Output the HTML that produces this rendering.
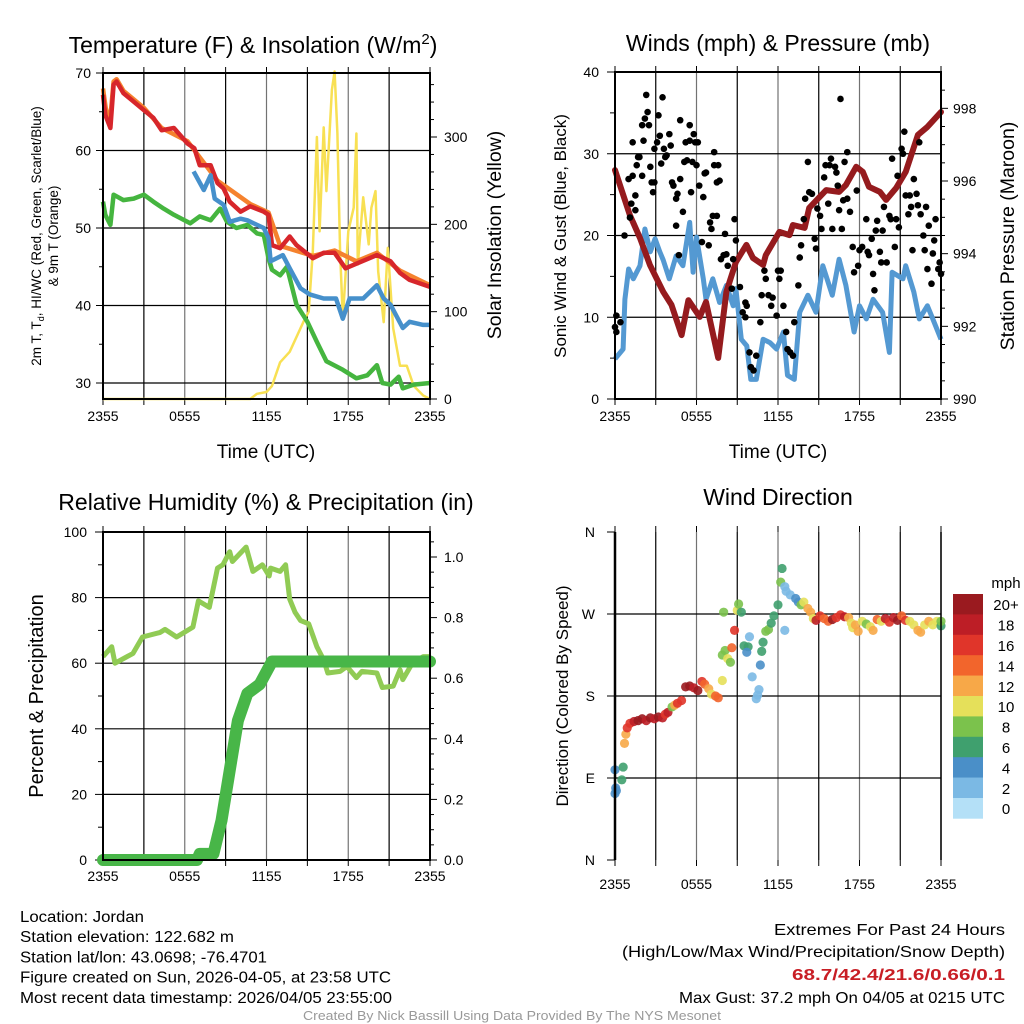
<!DOCTYPE html>
<html><head><meta charset="utf-8"><style>
html,body{margin:0;padding:0;background:#fff;}
svg{display:block;font-family:"Liberation Sans",sans-serif;}
</style></head><body>
<svg id="fig" width="1024" height="1024" viewBox="0 0 1024 1024" xmlns="http://www.w3.org/2000/svg">
<rect x="0" y="0" width="1024" height="1024" fill="#fff"/>
</svg>
<script>
// ---------- Panel 1 data: temperature & insolation ----------
const tempT = [0,0.17,0.54,0.78,1.0,1.5,2.25,3.0,3.7,4.3,5.2,6.2,6.7,7.1,7.9,8.4,8.85,9.3,10.1,10.8,11.8,12.15,12.4,13.0,13.7,14.2,15.4,16.2,17.0,17.8,18.6,20.1,21.1,21.8,22.5,24.0];
const tempV = [67.2,64.6,62.9,68.5,68.9,67.4,66.3,65.2,64.2,62.6,62.9,60.9,60.3,58.1,58.1,55.8,55.1,53.4,52.1,52.8,52.1,51.7,47.8,47.4,48.9,47.8,46.1,46.8,46.8,44.8,45.4,46.5,45.7,44.2,43.3,42.4];
const t9T = [0,0.2,0.5,0.78,1.0,1.5,2.25,3.0,4.3,6.2,8.4,10.8,12.15,13.0,15.4,17.0,18.6,20.1,21.8,24.0];
const t9V = [68.0,65.5,63.5,68.9,69.2,67.7,66.6,65.5,62.9,61.2,56.1,53.1,52.0,47.7,46.4,47.1,45.7,46.8,44.5,42.6];
const wcT = [6.65,7.4,7.9,8.2,8.85,9.3,10.1,10.6,11.3,11.8,12.15,12.3,13.2,13.7,14.5,15.2,16.2,17.1,17.6,18.1,19.1,20.1,20.6,21.1,22.0,22.5,23.5,24.0];
const wcV = [57.3,54.9,56.8,53.8,53.0,50.8,51.2,51.0,50.4,50.0,48.7,45.7,46.5,44.8,42.2,41.4,40.9,40.9,38.3,40.9,40.9,42.6,40.9,40.1,37.1,37.9,37.5,37.5];
const tdT = [0,0.17,0.54,0.78,1.5,2.25,3.0,3.7,4.45,5.2,6.4,7.1,7.9,8.6,9.1,9.8,10.6,11.3,11.8,12.15,12.4,13.0,13.5,14.2,15.0,15.7,16.4,17.6,18.6,19.4,20.1,20.5,21.1,21.7,22.0,22.8,24.0];
const tdV = [53.4,51.7,50.4,54.3,53.6,53.8,54.3,53.4,52.5,51.7,50.6,51.5,51.0,52.5,50.8,50.0,50.4,49.3,49.1,46.1,44.6,43.9,45.0,40.1,37.9,35.3,32.8,31.7,30.6,31.0,32.3,30.0,29.8,30.8,29.3,29.8,30.0];
const solT = [0,10.8,11.3,12.0,12.4,13.0,13.7,14.7,15.1,15.4,15.7,15.9,16.2,16.4,16.8,17.0,17.2,17.4,17.6,18.0,18.4,18.6,18.7,19.1,19.5,19.7,20.0,20.2,20.6,20.9,21.3,21.8,22.3,22.8,23.5,24.0];
const solV = [0,0,6,8,15,42,54,88,100,169,300,192,311,238,354,375,304,169,92,192,219,304,154,231,177,219,238,146,88,173,81,38,38,15,4,0];
const timeTicks = [0,6,12,18,24];
const timeLabels = ["2355","0555","1155","1755","2355"];
const tempTicks = [30,40,50,60,70];
const solTicks = [0,100,200,300];

// ---------- Panel 2 data: winds & pressure ----------
const windT = [0,0.6,0.73,1.0,1.35,1.84,2.2,2.6,2.95,3.3,3.55,4.0,4.5,5.0,5.5,5.75,6.0,6.5,6.7,7.2,7.7,8.2,8.7,8.9,9.3,9.7,10.0,10.4,10.9,11.4,11.9,12.4,12.7,13.2,13.6,14.2,14.8,15.3,16.0,16.5,17.0,17.6,18.0,18.5,19.0,19.7,20.2,20.4,21.2,21.4,22.0,22.4,23.0,23.4,24.0];
const windV = [4.9,6.1,12.2,15.9,14.7,16.3,20.8,18.0,19.6,18.0,17.0,14.7,17.5,16.3,21.6,15.5,19.8,14.7,12.2,14.7,11.8,13.9,11.4,13.5,7.3,6.5,2.4,2.4,7.3,6.9,6.1,8.2,2.9,2.4,10.6,12.7,10.6,16.3,12.7,17.1,13.9,8.2,11.4,9.8,12.2,10.6,5.7,15.5,14.7,16.3,13.1,9.8,11.4,9.8,7.3];
const gustT = [0,0.1,0.1,0.4,0.7,1.0,1.1,1.2,1.3,1.5,1.3,1.5,1.6,1.7,1.8,2.0,2.1,2.0,2.2,2.3,2.4,2.5,2.6,2.7,2.8,2.9,2.9,3.1,3.2,3.3,3.4,3.5,3.6,3.7,3.8,4.0,4.1,4.2,4.3,4.5,4.5,4.6,4.7,4.8,4.8,5.0,5.1,5.2,5.3,5.5,5.5,5.6,5.7,5.8,5.9,6.0,6.1,6.2,6.4,6.5,6.6,6.7,6.9,7.0,7.1,7.2,7.3,7.3,7.5,7.5,7.6,7.7,7.8,8.0,8.1,8.2,8.3,8.6,8.7,8.8,8.9,9.2,9.4,9.6,9.6,9.7,9.9,10.0,10.2,10.4,10.7,10.8,11.0,11.1,11.3,11.5,11.6,11.9,12.0,12.1,12.2,12.4,12.6,12.7,12.9,13.1,13.2,13.5,13.6,13.7,13.9,14.0,14.2,14.3,14.5,14.7,14.8,14.9,15.1,15.2,15.4,15.5,15.7,15.8,15.9,16.0,16.2,16.3,16.4,16.5,16.6,16.7,16.8,16.9,17.1,17.1,17.3,17.5,17.6,17.8,17.9,18.0,18.2,18.5,18.6,18.7,18.9,19.0,19.1,19.2,19.3,19.5,19.6,19.7,19.8,20.0,20.2,20.3,20.4,20.6,20.7,20.8,20.9,21.1,21.2,21.3,21.4,21.6,21.7,21.8,21.9,22.0,22.2,22.3,22.4,22.5,22.7,22.8,22.9,23.0,23.1,23.3,23.4,23.5,23.6,23.8,23.9,24.0];
const gustV = [8.8,10.2,8.2,9.4,20.0,26.9,22.2,23.9,27.3,23.1,31.4,24.9,28.6,29.6,29.6,27.3,31.6,33.5,34.3,37.2,35.1,33.5,28.4,26.5,25.3,30.6,26.5,31.4,34.7,32.2,28.8,36.9,30.6,29.6,29.8,32.4,31.0,26.5,26.1,24.5,21.2,25.1,17.6,26.9,34.1,22.9,29.0,31.4,29.2,33.5,31.6,25.3,29.0,32.4,31.4,28.6,31.4,26.1,19.2,24.7,27.6,27.7,18.8,21.6,20.8,22.4,30.2,28.6,22.4,26.5,28.6,26.7,17.1,17.6,20.2,17.7,16.3,13.5,17.1,22.0,19.4,13.7,10.6,11.8,10.0,11.4,5.7,3.9,3.5,5.3,9.4,12.7,15.7,14.7,12.7,11.4,12.4,10.2,15.7,14.7,15.7,11.4,8.2,6.1,5.7,5.3,9.4,13.9,17.3,18.8,22.0,24.5,29.0,25.3,25.1,19.6,18.4,23.3,22.4,20.8,27.1,28.6,23.9,28.6,29.4,20.8,28.4,27.7,26.1,23.1,36.7,20.8,24.3,29.0,30.2,24.5,22.9,18.6,15.5,25.5,16.3,18.2,18.6,22.0,18.0,17.6,19.6,15.3,13.3,20.6,21.8,18.0,16.7,20.6,23.5,16.7,22.4,22.0,29.4,18.6,22.0,27.3,21.0,30.6,30.0,32.7,24.9,22.6,24.9,23.5,18.2,26.9,25.1,23.7,31.4,22.6,20.0,18.2,23.5,15.9,21.2,14.1,17.8,19.4,22.0,15.9,16.7,15.3];
const presT = [0,1.1,1.84,2.57,3.55,4.16,4.9,5.4,6.24,6.7,7.6,8.2,8.9,9.67,10.16,10.9,11.1,12.1,12.85,13.1,13.96,14.3,15.55,16.5,17.0,17.76,18.24,18.7,19.5,19.96,20.7,21.4,22.3,23.0,24.0];
const presV = [996.3,995.06,994.43,993.69,992.95,992.59,991.76,992.72,992.26,992.67,991.13,992.95,993.77,994.24,993.88,993.69,993.96,994.6,994.51,994.79,994.71,995.26,995.75,995.7,995.89,996.39,996.25,995.84,995.7,995.48,995.81,996.25,997.27,997.49,997.9];
const windTicks = [0,10,20,30,40];
const presTicks = [990,992,994,996,998];

// ---------- Panel 3 data: RH & precipitation ----------
const rhT = [0,0.64,0.88,2.2,2.9,4.2,4.55,5.4,6.6,7.0,7.8,8.4,8.8,9.3,9.5,10.5,11.0,11.7,12.2,12.3,13.0,13.4,13.7,14.1,14.5,15.1,15.7,16.2,16.5,17.4,17.9,18.6,19.0,20.1,20.5,21.3,21.8,22.0,22.7,23.5,24.0];
const rhV = [62,65,60,63,68,69.4,70.3,68,71,79,77,89,90,94,91,95.4,88,90,86.6,89,88,90,79.5,75.5,73,72,65,61,57,57.5,59,55.6,57.5,57,52.6,53,58,55,60,62,62];
const prT = [0,6.9,7.1,8.1,8.7,9.5,9.9,10.6,11.5,12.4,24.0];
const prV = [0,0,0.02,0.02,0.13,0.35,0.46,0.55,0.58,0.655,0.655];
const rhTicks = [0,20,40,60,80,100];
const prTicks = [0.0,0.2,0.4,0.6,0.8,1.0];

// ---------- Panel 4 data: wind direction ----------
const dirT = [0,0.1,0.05,0,0.6,0.5,0.7,0.8,0.9,1.1,1.4,1.7,2.0,2.3,2.6,2.9,3.2,3.5,3.7,3.9,4.2,4.4,4.6,4.9,5.2,5.5,5.8,6.1,6.4,6.6,6.9,7.1,7.4,7.6,7.9,7.9,8.1,8.3,8.5,8.6,8.8,8.0,9.0,9.1,9.3,9.5,9.8,9.9,9.7,10.1,10.6,10.5,10.4,10.7,10.9,10.8,11.1,11.3,11.5,11.7,12.0,12.2,12.3,12.5,12.6,12.9,13.3,13.5,12.5,13.7,13.9,14.2,14.4,14.6,14.8,15.1,15.4,15.7,16.0,16.3,16.6,16.9,17.2,17.4,17.5,17.7,17.9,18.2,18.5,18.8,19.0,19.3,19.6,19.9,20.2,20.5,20.8,21.1,21.4,21.7,22.0,22.3,22.5,22.8,23.1,23.4,23.7,24,24];
const dirV = [73,76,79,99,102,88,128,138,145,150,152,153,155,153,156,155,157,156,160,162,168,170,172,175,190,191,189,186,196,193,188,182,180,178,197,225,230,221,217,233,252,272,274,281,272,235,234,245,228,201,187,181,177,214,239,229,251,253,260,268,280,305,320,300,295,291,287,283,252,280,283,276,272,265,263,268,265,262,264,266,269,267,266,260,255,258,251,262,259,256,252,264,262,265,261,266,263,268,263,262,258,252,250,258,262,258,262,257,262];
const dirSpd = [4,4,4,4,6,6,12,12,16,16,18,20,20,18,20,18,20,18,16,18,8,12,16,16,20,20,18,20,16,14,12,10,14,14,10,8,8,10,8,14,16,8,10,8,6,6,6,2,4,2,2,2,2,4,6,6,8,8,6,6,6,8,6,2,2,2,4,4,2,8,10,12,12,10,18,16,14,14,20,16,16,18,12,10,10,12,12,10,8,10,12,14,10,18,16,18,20,14,16,10,10,12,12,10,12,10,10,6,8];
const dirTickLabels = ["N","E","S","W","N"];
const dirTicks = [0,90,180,270,360];
const cbLabels = ["20+","18","16","14","12","10","8","6","4","2","0"];
const cbColors = ["#9a1a1f","#bd1e26","#e0352a","#f2652c","#f7a848","#e5e05a","#7bc24c","#3fa06e","#4a8fc8","#7bb9e4","#b4e0f7"];

// ---------- helpers ----------
const NS = "http://www.w3.org/2000/svg";
const svg = document.getElementById("fig");
function mk(tag, attrs, parent){
  const e = document.createElementNS(NS, tag);
  for (const k in attrs) e.setAttribute(k, attrs[k]);
  (parent||svg).appendChild(e);
  return e;
}
function txt(str, x, y, size, anchor, parent, extra){
  const e = mk("text", {x:x, y:y, "font-size":size, "text-anchor":anchor||"middle", fill:"#000"}, parent);
  if (extra) for (const k in extra) e.setAttribute(k, extra[k]);
  e.textContent = str;
  return e;
}
function lin(d0,d1,r0,r1){ return v => r0 + (v-d0)/(d1-d0)*(r1-r0); }
function pathFrom(xs, ys, fx, fy){
  let d = "";
  for (let i=0;i<xs.length;i++) d += (i?"L":"M") + fx(xs[i]).toFixed(1) + "," + fy(ys[i]).toFixed(1);
  return d;
}
function frame(g, L, T, R, B, hLines, vCount){
  for (let i=0;i<=vCount;i++){
    const x = L + (R-L)*i/vCount;
    const ln = mk("line",{x1:x,y1:T,x2:x,y2:B,stroke:"#000","stroke-width":1.2,opacity:(i%2?1:0.55)}, g);
    
    
    mk("line",{x1:x,y1:B,x2:x,y2:B+6,stroke:"#000","stroke-width":1}, g);
    mk("line",{x1:x,y1:T,x2:x,y2:T-6,stroke:"#000","stroke-width":1}, g);
  }
  hLines.forEach(y=>{
    const ln = mk("line",{x1:L,y1:y,x2:R,y2:y,stroke:"#000","stroke-width":1.2}, g);
    
    
  });
}
function border(g,L,T,R,B){
  const r = mk("rect",{x:L,y:T,width:R-L,height:B-T,fill:"none",stroke:"#000","stroke-width":2}, g);
  
  
}

// ================= PANEL 1 =================
(function(){
  const g = mk("g",{});
  
  
  const L=103,R=430,T=73,B=399;
  const fx = lin(0,24,L,R), fy = lin(30,70,383,73), fs = lin(0,300,399,137);
  frame(g,L,T,R,B,tempTicks.map(fy),8);
  tempTicks.forEach(v=>{ mk("line",{x1:L-7,y1:fy(v),x2:L,y2:fy(v),stroke:"#000"},g); txt(String(v),L-12,fy(v)+5,14,"end",g); });
  [35,45,55,65].forEach(v=>mk("line",{x1:L-4,y1:fy(v),x2:L,y2:fy(v),stroke:"#000"},g));
  solTicks.forEach(v=>{ mk("line",{x1:R,y1:fs(v),x2:R+7,y2:fs(v),stroke:"#000"},g); txt(String(v),R+14,fs(v)+5,14,"start",g); });
  for (let v=20; v<=360; v+=20) if (v%100) mk("line",{x1:R,y1:fs(v),x2:R+4,y2:fs(v),stroke:"#000"},g);
  timeTicks.forEach((t,i)=>txt(timeLabels[i],fx(t),421,14,"middle",g));
  const s1 = mk("path",{d:pathFrom(solT,solV,fx,fs),fill:"none",stroke:"#f8e053","stroke-width":2.5,"stroke-linejoin":"round"},g);
  
  
  const s2 = mk("path",{d:pathFrom(tdT,tdV,fx,fy),fill:"none",stroke:"#45b53f","stroke-width":4.5,"stroke-linejoin":"round"},g);
  
  
  const s3 = mk("path",{d:pathFrom(t9T,t9V,fx,fy),fill:"none",stroke:"#f5822e","stroke-width":4.5,"stroke-linejoin":"round"},g);
  
  
  const s4 = mk("path",{d:pathFrom(tempT,tempV,fx,fy),fill:"none",stroke:"#d7262b","stroke-width":4.5,"stroke-linejoin":"round"},g);
  
  
  const s5 = mk("path",{d:pathFrom(wcT,wcV,fx,fy),fill:"none",stroke:"#4690cb","stroke-width":4.5,"stroke-linejoin":"round"},g);
  
  
  border(g,L,T,R,B);
  const ti = txt("Temperature (F) & Insolation (W/m",253,53,23,"middle",g);
  const sup = mk("tspan",{dy:-9,"font-size":15},ti); sup.textContent="2";
  const cl = mk("tspan",{dy:9},ti); cl.textContent=")";
  
  
  const xt = txt("Time (UTC)",266,458,19,"middle",g);
  
  
  const y1 = mk("text",{transform:"translate(41,236) rotate(-90)","font-size":13.5,"text-anchor":"middle"},g);
  
  
  const a = mk("tspan",{},y1); a.textContent="2m T, T";
  const b = mk("tspan",{dy:3,"font-size":9},y1); b.textContent="d";
  const c = mk("tspan",{dy:-3},y1); c.textContent=", HI/WC (Red, Green, Scarlet/Blue)";
  const y1b = txt("& 9m T (Orange)",0,0,13.5,"middle",g,{transform:"translate(58,236) rotate(-90)"});
  
  
  const y2 = txt("Solar Insolation (Yellow)",0,0,19.5,"middle",g,{transform:"translate(501,235) rotate(-90)"});
  
  
})();

// ================= PANEL 2 =================
(function(){
  const g = mk("g",{});
  
  
  const L=615,R=941,T=72,B=399;
  const fx = lin(0,24,L,R), fy = lin(0,40,B,T), fp = lin(990,999,B,T);
  frame(g,L,T,R,B,[10,20,30].map(fy),8);
  windTicks.forEach(v=>{ mk("line",{x1:L-8,y1:fy(v),x2:L,y2:fy(v),stroke:"#000"},g); txt(String(v),L-16,fy(v)+5,14,"end",g); });
  [5,15,25,35].forEach(v=>mk("line",{x1:L-5,y1:fy(v),x2:L,y2:fy(v),stroke:"#000"},g));
  presTicks.forEach(v=>{ mk("line",{x1:R,y1:fp(v),x2:R+7,y2:fp(v),stroke:"#000"},g); txt(String(v),R+12,fp(v)+5,14,"start",g); });
  for (let v=990.5; v<999; v+=0.5) if (v%2) mk("line",{x1:R,y1:fp(v),x2:R+4,y2:fp(v),stroke:"#000"},g);
  timeTicks.forEach((t,i)=>txt(timeLabels[i],fx(t),421,14,"middle",g));
  const w = mk("path",{d:pathFrom(windT,windV,fx,fy),fill:"none",stroke:"#5499d2","stroke-width":5,"stroke-linejoin":"round"},g);
  
  
  const p = mk("path",{d:pathFrom(presT,presV,fx,fp),fill:"none",stroke:"#951b1e","stroke-width":6,"stroke-linejoin":"round","stroke-linecap":"round"},g);
  
  
  for (let i=0;i<gustT.length;i++){
    const d = mk("circle",{cx:fx(gustT[i]),cy:fy(gustV[i]),r:3.3,fill:"#000"},g);
    
    
  }
  border(g,L,T,R,B);
  const ti = txt("Winds (mph) & Pressure (mb)",778,51,23,"middle",g);
  
  
  const xt = txt("Time (UTC)",778,458,19,"middle",g);
  
  
  const yl = txt("Sonic Wind & Gust (Blue, Black)",0,0,17,"middle",g,{transform:"translate(566,236) rotate(-90)"});
  
  
  const yr = txt("Station Pressure (Maroon)",0,0,19.5,"middle",g,{transform:"translate(1014,236) rotate(-90)"});
  
  
})();

// ================= PANEL 3 =================
(function(){
  const g = mk("g",{});
  
  
  const L=103,R=430,T=532,B=860;
  const fx = lin(0,24,L,R), fy = lin(0,100,B,T), fp = lin(0,1.0,B,557);
  frame(g,L,T,R,B,[20,40,60,80,100].map(fy),8);
  rhTicks.forEach(v=>{ mk("line",{x1:L-8,y1:fy(v),x2:L,y2:fy(v),stroke:"#000"},g); txt(String(v),L-16,fy(v)+5,14,"end",g); });
  [10,30,50,70,90].forEach(v=>mk("line",{x1:L-5,y1:fy(v),x2:L,y2:fy(v),stroke:"#000"},g));
  prTicks.forEach(v=>{ mk("line",{x1:R,y1:fp(v),x2:R+7,y2:fp(v),stroke:"#000"},g); txt(v.toFixed(1),R+14,fp(v)+5,14,"start",g); });
  for (let v=0.05; v<1.08; v+=0.05) if (Math.abs(v*5-Math.round(v*5))>0.01) mk("line",{x1:R,y1:fp(v),x2:R+4,y2:fp(v),stroke:"#000"},g);
  timeTicks.forEach((t,i)=>txt(timeLabels[i],fx(t),881,14,"middle",g));
  const rh = mk("path",{d:pathFrom(rhT,rhV,fx,fy),fill:"none",stroke:"#90cb54","stroke-width":5,"stroke-linejoin":"round"},g);
  
  
  const pr = mk("path",{d:pathFrom(prT,prV,fx,fp),fill:"none",stroke:"#48b648","stroke-width":12,"stroke-linejoin":"round","stroke-linecap":"round"},g);
  
  
  border(g,L,T,R,B);
  const ti = txt("Relative Humidity (%) & Precipitation (in)",266,510,23,"middle",g);
  
  
  const yl = txt("Percent & Precipitation",0,0,20,"middle",g,{transform:"translate(43,696) rotate(-90)"});
  
  
})();

// ================= PANEL 4 =================
(function(){
  const g = mk("g",{});
  
  
  const L=615,R=941,T=532,B=860;
  const fx = lin(0,24,L,R), fy = lin(0,360,B,T);
  frame(g,L,T,R,B,[90,180,270].map(fy),8);
  dirTicks.forEach((v,i)=>{ mk("line",{x1:L-8,y1:fy(v),x2:L,y2:fy(v),stroke:"#000"},g); txt(dirTickLabels[i],L-20,fy(v)+5,14,"end",g); });
  timeTicks.forEach((t,i)=>txt(timeLabels[i],fx(t),889,14,"middle",g));
  for (let i=0;i<dirT.length;i++){
    const idx = 10 - Math.min(10, Math.floor(dirSpd[i]/2));
    const d = mk("circle",{cx:fx(dirT[i]),cy:fy(dirV[i]),r:4.6,fill:cbColors[idx],opacity:0.9},g);
    
    
  }
  mk("line",{x1:L,y1:T,x2:L,y2:B,stroke:"#000","stroke-width":2.5},g);
  mk("line",{x1:R,y1:T,x2:R,y2:B,stroke:"#000","stroke-width":1.5},g);
  const ti = txt("Wind Direction",778,505,23,"middle",g);
  
  
  const yl = txt("Direction (Colored By Speed)",0,0,17,"middle",g,{transform:"translate(568,696) rotate(-90)"});
  
  
  const cb = mk("g",{},g);
  
  
  const h = 20.4;
  cbColors.forEach((c,i)=>{
    const r = mk("rect",{x:953,y:594+i*h,width:30,height:h+0.3,fill:c},cb);
    
    
    txt(cbLabels[i],1006,594+i*h+h/2+6,15,"middle",cb);
  });
  txt("mph",1006,588,15,"middle",cb);
})();

// ================= footer text =================
(function(){
  const g = mk("g",{});
  
  
  const left = [["Location: Jordan",124],["Station elevation: 122.682 m",214],["Station lat/lon: 43.0698; -76.4701",247],["Figure created on Sun, 2026-04-05, at 23:58 UTC",371],["Most recent data timestamp: 2026/04/05 23:55:00",372]];
  left.forEach((l,i)=>txt(l[0],20,922+i*20.2,15.5,"start",g,{textLength:l[1],lengthAdjust:"spacingAndGlyphs"}));
  const g2 = mk("g",{});
  
  
  txt("Extremes For Past 24 Hours",1005,935,16,"end",g2,{textLength:231,lengthAdjust:"spacingAndGlyphs"});
  txt("(High/Low/Max Wind/Precipitation/Snow Depth)",1005,957,16,"end",g2,{textLength:383,lengthAdjust:"spacingAndGlyphs"});
  txt("68.7/42.4/21.6/0.66/0.1",1005,980,16,"end",g2,{textLength:213,lengthAdjust:"spacingAndGlyphs",fill:"#c81e25","font-weight":"bold"});
  txt("Max Gust: 37.2 mph On 04/05 at 0215 UTC",1005,1003,16,"end",g2,{textLength:326,lengthAdjust:"spacingAndGlyphs"});
  const f = txt("Created By Nick Bassill Using Data Provided By The NYS Mesonet",512,1020,12.5,"middle",svg,{textLength:418,lengthAdjust:"spacingAndGlyphs",fill:"#999"});
  
  
})();
</script>
</body></html>
